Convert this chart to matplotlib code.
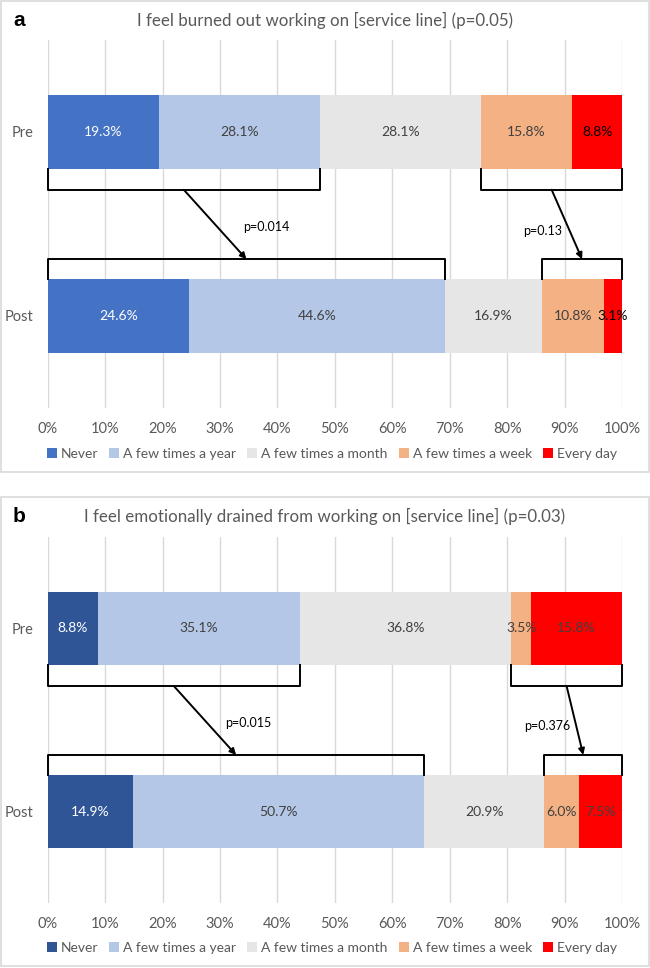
import numpy as np
import matplotlib.pyplot as plt
from matplotlib.patches import Rectangle

categories = ['Never', 'A few times a year', 'A few times a month',
              'A few times a week', 'Every day']
groups = ['Pre', 'Post']

title_a = 'I feel burned out working on [service line] (p=0.05)'
pre_a = [19.3, 28.1, 28.1, 15.8, 8.8]
post_a = [24.6, 44.6, 16.9, 10.8, 3.1]
pvals_a = ['p=0.014', 'p=0.13']

title_b = 'I feel emotionally drained from working on [service line] (p=0.03)'
pre_b = [8.8, 35.1, 36.8, 3.5, 15.8]
post_b = [14.9, 50.7, 20.9, 6.0, 7.5]
pvals_b = ['p=0.015', 'p=0.376']

xticks = np.arange(0, 101, 10)

plt.rcParams['font.family'] = ['Lato', 'DejaVu Sans']

W, H = 650, 968
fig = plt.figure(figsize=(W / 100, H / 100), dpi=100)


def fy(py):
    return 1 - py / H


def panel(letter, title, pre, post, pvals, never_color, box, ax_top, ax_bot,
          pxy, label_colors):
    # panel border
    x0, y0, x1, y1 = box
    fig.patches.append(Rectangle((x0 / W, fy(y1)), (x1 - x0) / W, (y1 - y0) / H,
                                 transform=fig.transFigure, fill=False,
                                 edgecolor='#D9D9D9', linewidth=1.2))
    fig.text(19 / W, fy(y0 + 19), letter, fontsize=15, fontweight='bold',
             family='Liberation Sans', ha='center', va='center')
    fig.text(0.5, fy(y0 + 19), title, fontsize=12.2, color='#595959',
             ha='center', va='center')

    ax = fig.add_axes([47.7 / W, fy(ax_bot), (622 - 47.7) / W, (ax_bot - ax_top) / H])
    colors = [never_color, '#B4C7E7', '#E7E6E6', '#F4B183', '#FF0000']
    data = np.array([pre, post])
    left = np.zeros(2)
    for i, cat in enumerate(categories):
        bars = ax.barh([0, 1], data[:, i], left=left, height=0.4,
                       color=colors[i], label=cat, zorder=2)
        for j, b in enumerate(bars):
            ax.text(left[j] + data[j, i] / 2, j, f'{data[j, i]:.1f}%',
                    ha='center', va='center', fontsize=10,
                    color=label_colors[j][i], zorder=3)
        left += data[:, i]

    # brackets and arrows
    cum_pre = np.cumsum(pre)
    cum_post = np.cumsum(post)
    groups_pre = [(0, cum_pre[1]), (cum_pre[2], 100)]
    groups_post = [(0, cum_post[1]), (cum_post[2], 100)]
    yb_pre = 0.2 + 0.114
    yb_post = 0.8 - 0.109
    for (a0, a1), (b0, b1), pv, (px, py) in zip(groups_pre, groups_post, pvals, pxy):
        ax.plot([a0, a0, a1, a1], [0.2, yb_pre, yb_pre, 0.2], color='black',
                lw=1.4, zorder=4, solid_joinstyle='round', clip_on=False)
        ax.plot([b0, b0, b1, b1], [0.8, yb_post, yb_post, 0.8], color='black',
                lw=1.4, zorder=4, solid_joinstyle='round', clip_on=False)
        ax.annotate('', xy=((b0 + b1) / 2, yb_post), xytext=((a0 + a1) / 2, yb_pre),
                    arrowprops=dict(arrowstyle='-|>', color='black', lw=1.4,
                                    mutation_scale=9, shrinkA=0, shrinkB=0),
                    zorder=5)
        ax.text(px, py, pv, fontsize=9, ha='center', va='center', color='black')

    ax.set_xlim(0, 100)
    ax.set_ylim(1.5, -0.5)
    ax.set_xticks(xticks)
    ax.set_xticklabels([f'{t}%' for t in xticks])
    ax.set_yticks([0, 1])
    ax.set_yticklabels(groups)
    ax.tick_params(length=0, labelsize=10.5, colors='#595959', pad=10)
    ax.tick_params(axis='x', pad=10)
    ax.grid(axis='x', color='#D9D9D9', lw=1, zorder=0)
    ax.set_axisbelow(True)
    for s in ax.spines.values():
        s.set_visible(False)
    leg = ax.legend(loc='center', bbox_to_anchor=(0.495, -(y1 - ax_bot - 18) / (ax_bot - ax_top)),
                    ncol=5, frameon=False, fontsize=10, handlelength=0.7,
                    handleheight=0.7, handletextpad=0.3, columnspacing=0.8)
    for t in leg.get_texts():
        t.set_color('#595959')
    return ax


dark = '#404040'
panel('a', title_a, pre_a, post_a, pvals_a, '#4472C4', (1, 1, 649, 472), 40, 408,
      [(38, 0.516), (86.2, 0.538)],
      [['white', dark, dark, dark, 'black'], ['white', dark, dark, dark, 'black']])
panel('b', title_b, pre_b, post_b, pvals_b, '#2F5597', (1, 497, 649, 966), 537, 903,
      [(35, 0.516), (87, 0.533)],
      [['white', dark, dark, dark, dark], ['white', dark, dark, dark, dark]])

fig.savefig('out.png', dpi=100)
